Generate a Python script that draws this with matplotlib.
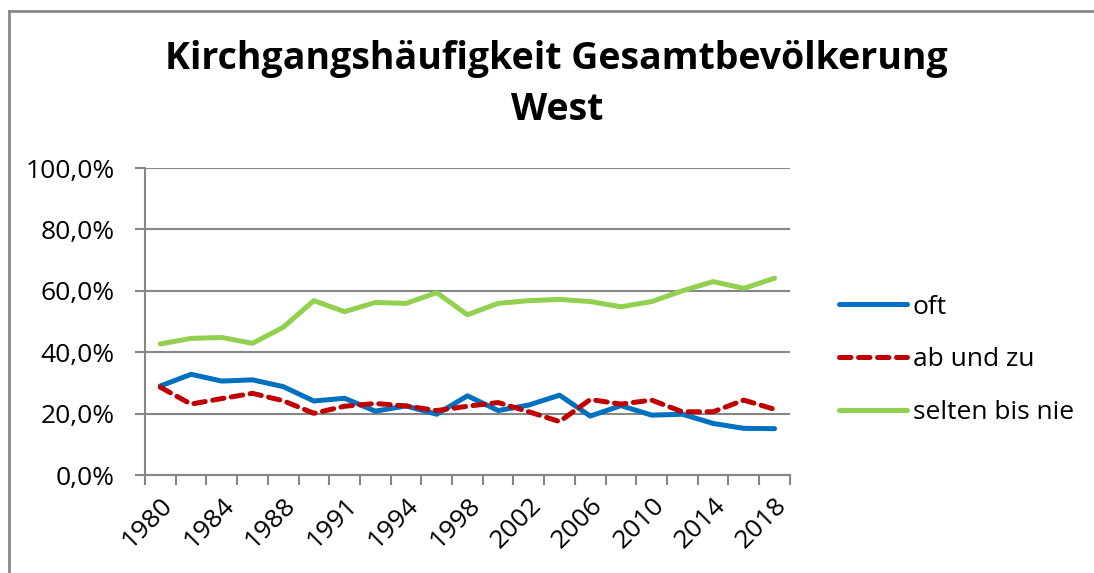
import matplotlib
matplotlib.use("Agg")
import matplotlib.pyplot as plt
from matplotlib.lines import Line2D
from matplotlib.ticker import FixedLocator, FuncFormatter

plt.rcParams['font.family'] = ['Open Sans', 'DejaVu Sans']

years = ['1980', '1982', '1984', '1986', '1988', '1990', '1991', '1992', '1994', '1996',
         '1998', '2000', '2002', '2004', '2006', '2008', '2010', '2012', '2014', '2016', '2018']

oft = [29.0, 32.8, 30.6, 31.0, 28.8, 24.1, 25.0, 20.8, 22.5, 19.8,
       25.8, 21.0, 22.8, 26.0, 19.2, 22.6, 19.5, 19.8, 16.8, 15.2, 15.1]
ab_und_zu = [28.6, 23.1, 24.9, 26.6, 24.2, 20.1, 22.4, 23.3, 22.5, 21.0,
             22.4, 23.6, 20.6, 17.4, 24.6, 23.1, 24.4, 20.6, 20.6, 24.4, 21.4]
selten = [42.7, 44.5, 44.8, 42.9, 48.1, 56.8, 53.2, 56.2, 55.9, 59.4,
          52.2, 55.9, 56.8, 57.2, 56.5, 54.8, 56.5, 60.0, 63.0, 60.8, 64.1]

series_names = ['oft', 'ab und zu', 'selten bis nie']
colors = ['#0070C0', '#C00000', '#92D050']

grid_col = '#868686'
lw = 3.6
dash = (0, (2.3, 1.5))
fs = 19

fig = plt.figure(figsize=(10.94, 5.73), dpi=100)
ax = fig.add_axes([0.1325, 0.171, 0.5895, 0.5358])

x = list(range(len(years)))
ax.plot(x, oft, color=colors[0], lw=lw, solid_capstyle='round', zorder=3)
ax.plot(x, ab_und_zu, color=colors[1], lw=lw, ls=dash, dash_capstyle='round', zorder=3)
ax.plot(x, selten, color=colors[2], lw=lw, solid_capstyle='round', zorder=3)

ax.set_xlim(-0.5, len(years) - 0.5)
ax.set_ylim(0, 100)

# y axis
ax.set_yticks([0, 20, 40, 60, 80, 100])
ax.yaxis.set_major_formatter(FuncFormatter(lambda v, p: f'{v:.1f}%'.replace('.', ',')))
ax.grid(axis='y', color=grid_col, lw=1.5)
ax.set_axisbelow(True)

# x axis: ticks between categories, labels every second category
ax.xaxis.set_major_locator(FixedLocator([i - 0.5 for i in range(len(years) + 1)]))
ax.xaxis.set_major_formatter(FuncFormatter(lambda v, p: ''))
ax.xaxis.set_minor_locator(FixedLocator(x[::2]))
ax.set_xticklabels(years[::2], minor=True, rotation=45, ha='right', va='top',
                   rotation_mode='anchor', fontsize=fs)
ax.tick_params(axis='x', which='minor', length=0, pad=13)
ax.tick_params(axis='x', which='major', length=7, width=1.5, color=grid_col)
ax.tick_params(axis='y', length=7, width=1.5, color=grid_col, labelsize=fs, pad=15)

for s in ['top', 'right']:
    ax.spines[s].set_visible(False)
for s in ['left', 'bottom']:
    ax.spines[s].set_color(grid_col)
    ax.spines[s].set_linewidth(1.5)

fig.text(0.509, 0.853, 'Kirchgangshäufigkeit Gesamtbevölkerung\nWest', ha='center', va='center',
         fontsize=27, fontweight='bold', linespacing=1.45)

handles = [Line2D([], [], color=colors[0], lw=lw, solid_capstyle='round'),
           Line2D([], [], color=colors[1], lw=lw, ls=dash, dash_capstyle='round'),
           Line2D([], [], color=colors[2], lw=lw, solid_capstyle='round')]
fig.legend(handles, series_names, loc='center left', bbox_to_anchor=(0.745, 0.372),
           frameon=False, fontsize=fs, handlelength=2.6, handletextpad=0.2, labelspacing=1.05)

# chart border (left and top edges visible)
fig.add_artist(Line2D([0.0078, 0.0078], [0, 0.981], transform=fig.transFigure, color='#898989', lw=2))
fig.add_artist(Line2D([0.0078, 1.0], [0.981, 0.981], transform=fig.transFigure, color='#898989', lw=2))

fig.savefig('out.png', dpi=100)
